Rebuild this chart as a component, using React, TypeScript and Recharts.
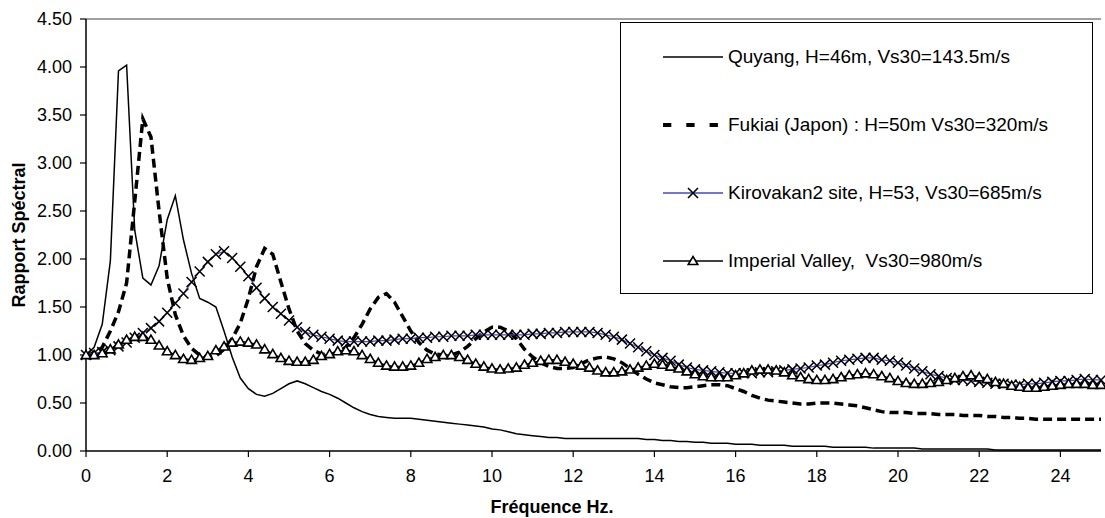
import React from 'react';
import { LineChart, Line, XAxis, YAxis, ReferenceLine, Legend } from 'recharts';

const FONT = '"Liberation Sans", Arial, Helvetica, sans-serif';

const FREQ = [
  0, 0.2, 0.4, 0.6, 0.8, 1, 1.2, 1.4, 1.6, 1.8,
  2, 2.2, 2.4, 2.6, 2.8, 3, 3.2, 3.4, 3.6, 3.8,
  4, 4.2, 4.4, 4.6, 4.8, 5, 5.2, 5.4, 5.6, 5.8,
  6, 6.2, 6.4, 6.6, 6.8, 7, 7.2, 7.4, 7.6, 7.8,
  8, 8.2, 8.4, 8.6, 8.8, 9, 9.2, 9.4, 9.6, 9.8,
  10, 10.2, 10.4, 10.6, 10.8, 11, 11.2, 11.4, 11.6, 11.8,
  12, 12.2, 12.4, 12.6, 12.8, 13, 13.2, 13.4, 13.6, 13.8,
  14, 14.2, 14.4, 14.6, 14.8, 15, 15.2, 15.4, 15.6, 15.8,
  16, 16.2, 16.4, 16.6, 16.8, 17, 17.2, 17.4, 17.6, 17.8,
  18, 18.2, 18.4, 18.6, 18.8, 19, 19.2, 19.4, 19.6, 19.8,
  20, 20.2, 20.4, 20.6, 20.8, 21, 21.2, 21.4, 21.6, 21.8,
  22, 22.2, 22.4, 22.6, 22.8, 23, 23.2, 23.4, 23.6, 23.8,
  24, 24.2, 24.4, 24.6, 24.8, 25,
];

const QUYANG = [
  1.00, 1.08, 1.32, 1.98, 3.96, 4.02, 2.30, 1.80, 1.73, 1.93,
  2.41, 2.66, 2.20, 1.85, 1.59, 1.55, 1.50, 1.25, 0.98, 0.76,
  0.65, 0.59, 0.57, 0.60, 0.65, 0.70, 0.73, 0.70, 0.66, 0.62,
  0.59, 0.55, 0.50, 0.45, 0.41, 0.38, 0.36, 0.35, 0.34, 0.34,
  0.34, 0.33, 0.32, 0.31, 0.30, 0.29, 0.28, 0.27, 0.26, 0.25,
  0.23, 0.22, 0.20, 0.18, 0.17, 0.16, 0.15, 0.14, 0.14, 0.13,
  0.13, 0.13, 0.13, 0.13, 0.13, 0.13, 0.13, 0.13, 0.13, 0.12,
  0.12, 0.11, 0.11, 0.10, 0.10, 0.09, 0.09, 0.08, 0.08, 0.08,
  0.07, 0.07, 0.07, 0.06, 0.06, 0.06, 0.06, 0.05, 0.05, 0.05,
  0.05, 0.05, 0.04, 0.04, 0.04, 0.04, 0.04, 0.03, 0.03, 0.03,
  0.03, 0.03, 0.03, 0.02, 0.02, 0.02, 0.02, 0.02, 0.02, 0.02,
  0.02, 0.02, 0.01, 0.01, 0.01, 0.01, 0.01, 0.01, 0.01, 0.01,
  0.01, 0.01, 0.01, 0.01, 0.01, 0.01,
];

const FUKIAI = [
  1.00, 1.02, 1.08, 1.25, 1.45, 1.75, 2.60, 3.46, 3.27, 2.50,
  1.80, 1.42, 1.20, 1.07, 1.00, 0.97, 0.99, 1.06, 1.17, 1.33,
  1.59, 1.92, 2.11, 2.05, 1.76, 1.48, 1.25, 1.12, 1.05, 1.01,
  1.00, 1.03, 1.08, 1.18, 1.32, 1.48, 1.60, 1.64, 1.55, 1.40,
  1.25, 1.13, 1.05, 1.01, 1.00, 1.00, 1.03, 1.09, 1.17, 1.24,
  1.29, 1.29, 1.25, 1.17, 1.06, 0.98, 0.92, 0.88, 0.86, 0.86,
  0.87, 0.91, 0.95, 0.97, 0.98, 0.96, 0.92, 0.86, 0.80, 0.75,
  0.71, 0.69, 0.67, 0.66, 0.66, 0.67, 0.68, 0.69, 0.69, 0.68,
  0.65, 0.62, 0.58, 0.55, 0.53, 0.52, 0.51, 0.50, 0.49, 0.49,
  0.50, 0.50, 0.50, 0.49, 0.48, 0.47, 0.45, 0.43, 0.41, 0.40,
  0.40, 0.40, 0.39, 0.39, 0.39, 0.38, 0.38, 0.38, 0.37, 0.37,
  0.37, 0.36, 0.36, 0.35, 0.35, 0.34, 0.34, 0.33, 0.33, 0.33,
  0.33, 0.33, 0.33, 0.33, 0.33, 0.33,
];

const KIROVAKAN = [
  1.00, 1.02, 1.03, 1.05, 1.09, 1.13, 1.18, 1.23, 1.28, 1.35,
  1.44, 1.54, 1.64, 1.76, 1.87, 1.97, 2.05, 2.08, 2.01, 1.92,
  1.82, 1.70, 1.59, 1.50, 1.43, 1.36, 1.29, 1.24, 1.21, 1.19,
  1.17, 1.15, 1.14, 1.14, 1.14, 1.14, 1.15, 1.15, 1.16, 1.17,
  1.17, 1.18, 1.18, 1.19, 1.19, 1.20, 1.20, 1.20, 1.21, 1.21,
  1.21, 1.21, 1.21, 1.21, 1.21, 1.22, 1.22, 1.23, 1.23, 1.24,
  1.24, 1.24, 1.24, 1.23, 1.21, 1.19, 1.16, 1.12, 1.08, 1.04,
  1.00, 0.97, 0.94, 0.90, 0.87, 0.85, 0.84, 0.83, 0.82, 0.81,
  0.81, 0.81, 0.81, 0.82, 0.82, 0.83, 0.84, 0.85, 0.86, 0.87,
  0.89, 0.90, 0.92, 0.94, 0.95, 0.96, 0.97, 0.97, 0.95, 0.94,
  0.92, 0.89, 0.86, 0.83, 0.80, 0.78, 0.76, 0.74, 0.74, 0.73,
  0.72, 0.71, 0.70, 0.70, 0.69, 0.69, 0.70, 0.70, 0.71, 0.72,
  0.73, 0.73, 0.74, 0.75, 0.74, 0.74,
];

const IMPERIAL = [
  1.00, 1.00, 1.02, 1.06, 1.11, 1.16, 1.19, 1.19, 1.16, 1.10,
  1.04, 1.00, 0.96, 0.95, 0.97, 0.99, 1.05, 1.09, 1.13, 1.14,
  1.13, 1.11, 1.06, 1.01, 0.97, 0.94, 0.93, 0.93, 0.95, 0.99,
  1.01, 1.04, 1.05, 1.04, 1.00, 0.96, 0.92, 0.89, 0.88, 0.88,
  0.89, 0.92, 0.96, 0.98, 1.00, 1.00, 0.98, 0.95, 0.91, 0.88,
  0.86, 0.85, 0.86, 0.87, 0.90, 0.92, 0.94, 0.95, 0.95, 0.93,
  0.91, 0.89, 0.87, 0.84, 0.82, 0.82, 0.83, 0.85, 0.87, 0.89,
  0.91, 0.90, 0.88, 0.86, 0.83, 0.80, 0.78, 0.77, 0.77, 0.77,
  0.79, 0.81, 0.84, 0.85, 0.85, 0.84, 0.82, 0.79, 0.77, 0.75,
  0.74, 0.74, 0.75, 0.77, 0.79, 0.80, 0.81, 0.80, 0.78, 0.76,
  0.73, 0.71, 0.70, 0.70, 0.71, 0.72, 0.74, 0.76, 0.78, 0.79,
  0.77, 0.75, 0.72, 0.70, 0.68, 0.67, 0.66, 0.66, 0.67, 0.68,
  0.69, 0.70, 0.70, 0.70, 0.69, 0.69,
];

const X_TICKS = [0, 2, 4, 6, 8, 10, 12, 14, 16, 18, 20, 22, 24];
const Y_TICKS = [0, 0.5, 1, 1.5, 2, 2.5, 3, 3.5, 4, 4.5];

const SERIES_NAMES = [
  'Quyang, H=46m, Vs30=143.5m/s',
  'Fukiai (Japon) : H=50m Vs30=320m/s',
  'Kirovakan2 site, H=53, Vs30=685m/s',
  'Imperial Valley,  Vs30=980m/s',
];

const X_TITLE = 'Fréquence Hz.';
const Y_TITLE = 'Rapport Spéctral';

const BLUE = '#4646c8';

const data = FREQ.map((f, i) => ({
  f,
  quyang: QUYANG[i],
  fukiai: FUKIAI[i],
  kirovakan: KIROVAKAN[i],
  imperial: IMPERIAL[i],
}));

const XMark = (props: any) => {
  const { cx, cy } = props;
  if (cx == null || cy == null) return null;
  const s = 5;
  return (
    <path
      key={props.key ?? `x-${props.index}`}
      d={`M${cx - s},${cy - s}L${cx + s},${cy + s}M${cx - s},${cy + s}L${cx + s},${cy - s}`}
      stroke="#000"
      strokeWidth={1.5}
      fill="none"
    />
  );
};

const TriMark = (props: any) => {
  const { cx, cy } = props;
  if (cx == null || cy == null) return null;
  return (
    <path
      key={props.key ?? `t-${props.index}`}
      d={`M${cx},${cy - 4.6}L${cx + 4.8},${cy + 3.6}L${cx - 4.8},${cy + 3.6}Z`}
      stroke="#000"
      strokeWidth={1.6}
      fill="#fff"
    />
  );
};

const LegendSample = ({ i }: { i: number }) => {
  if (i === 0) {
    return <line x1={0} y1={12} x2={60} y2={12} stroke="#000" strokeWidth={1.5} />;
  }
  if (i === 1) {
    return <line x1={0} y1={12} x2={60} y2={12} stroke="#000" strokeWidth={4} strokeDasharray="8.3 15" />;
  }
  if (i === 2) {
    return (
      <g>
        <line x1={0} y1={12} x2={60} y2={12} stroke={BLUE} strokeWidth={1.5} />
        <path d="M25,7L35,17M25,17L35,7" stroke="#000" strokeWidth={1.6} fill="none" />
      </g>
    );
  }
  return (
    <g>
      <line x1={0} y1={12} x2={60} y2={12} stroke="#000" strokeWidth={1.5} />
      <path d="M30,7.5L34.8,15.5L25.2,15.5Z" stroke="#000" strokeWidth={1.6} fill="#fff" />
    </g>
  );
};

const LegendBox = () => (
  <div
    style={{
      width: 473,
      height: 272,
      border: '1px solid #000',
      background: '#fff',
      boxSizing: 'border-box',
      position: 'relative',
      fontFamily: FONT,
      fontSize: 19,
      color: '#000',
    }}
  >
    {SERIES_NAMES.map((name, i) => (
      <div
        key={name}
        style={{
          position: 'absolute',
          left: 42,
          top: 34 + i * 68 - 12,
          height: 24,
          display: 'flex',
          alignItems: 'center',
          whiteSpace: 'pre',
        }}
      >
        <svg width={60} height={24} style={{ display: 'block' }}>
          <LegendSample i={i} />
        </svg>
        <span style={{ marginLeft: 5, lineHeight: '24px' }}>{name}</span>
      </div>
    ))}
  </div>
);

const YTitle = () => (
  <text
    x={19}
    y={235}
    transform="rotate(-90 19 235)"
    textAnchor="middle"
    dominantBaseline="central"
    fontFamily={FONT}
    fontSize={18}
    fontWeight="bold"
    fill="#000"
  >
    {Y_TITLE}
  </text>
);

const XTitle = () => (
  <text
    x={552}
    y={507}
    textAnchor="middle"
    dominantBaseline="central"
    fontFamily={FONT}
    fontSize={18}
    fontWeight="bold"
    fill="#000"
  >
    {X_TITLE}
  </text>
);

export default function App() {
  return (
    <div style={{ width: 1105, height: 518, background: '#fff', position: 'relative' }}>
      <style>{'body{margin:0;background:#fff;}'}</style>
      <LineChart
        width={1105}
        height={518}
        data={data}
        margin={{ top: 19, right: 4, left: 0, bottom: 0 }}
      >
        <ReferenceLine y={4.5} stroke="#808080" strokeWidth={1.5} ifOverflow="extendDomain" />
        <XAxis
          dataKey="f"
          type="number"
          domain={[0, 25]}
          ticks={X_TICKS}
          interval={0}
          height={67}
          tickSize={6}
          tickMargin={12}
          axisLine={{ stroke: '#000', strokeWidth: 1.5 }}
          tickLine={{ stroke: '#000', strokeWidth: 1.2 }}
          tick={{ fill: '#000', fontSize: 18, fontFamily: FONT }}
          label={XTitle}
        />
        <YAxis
          type="number"
          domain={[0, 4.5]}
          ticks={Y_TICKS}
          interval={0}
          width={86}
          tickSize={6}
          tickMargin={8}
          tickFormatter={(v: number) => v.toFixed(2)}
          axisLine={{ stroke: '#000', strokeWidth: 1.5 }}
          tickLine={{ stroke: '#000', strokeWidth: 1.2 }}
          tick={{ fill: '#000', fontSize: 18, fontFamily: FONT }}
          label={YTitle}
        />
        <Legend
          layout="vertical"
          align="center"
          verticalAlign="middle"
          content={() => <LegendBox />}
          wrapperStyle={{ left: 620, top: 22, width: 473, height: 272 }}
        />
        <Line
          dataKey="quyang"
          name={SERIES_NAMES[0]}
          type="linear"
          stroke="#000"
          strokeWidth={1.5}
          dot={false}
          activeDot={false}
          isAnimationActive={false}
        />
        <Line
          dataKey="fukiai"
          name={SERIES_NAMES[1]}
          type="linear"
          stroke="#000"
          strokeWidth={3.5}
          strokeDasharray="9 5"
          dot={false}
          activeDot={false}
          isAnimationActive={false}
        />
        <Line
          dataKey="kirovakan"
          name={SERIES_NAMES[2]}
          type="linear"
          stroke={BLUE}
          strokeWidth={1.2}
          dot={XMark}
          activeDot={false}
          isAnimationActive={false}
        />
        <Line
          dataKey="imperial"
          name={SERIES_NAMES[3]}
          type="linear"
          stroke="#000"
          strokeWidth={1.5}
          dot={TriMark}
          activeDot={false}
          isAnimationActive={false}
        />
      </LineChart>
    </div>
  );
}
